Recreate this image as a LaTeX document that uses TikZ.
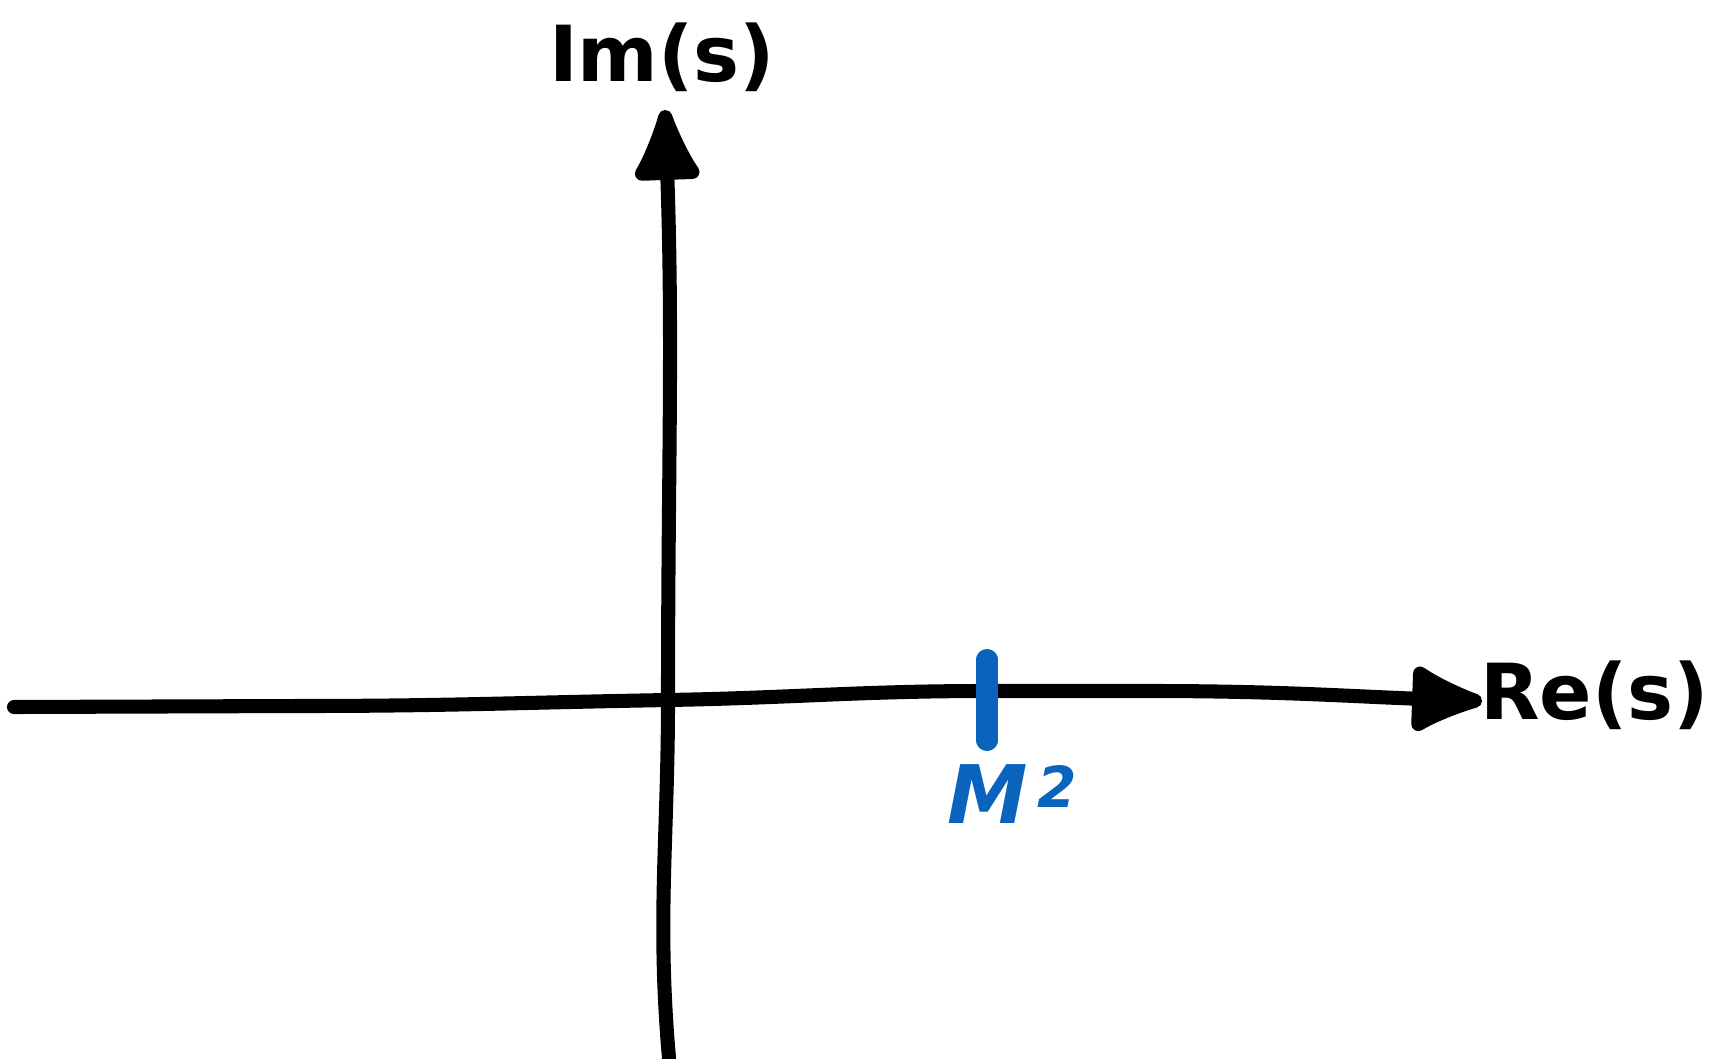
\documentclass[tikz,border=0pt]{standalone}
\usepackage{fontspec}
\setmainfont{DejaVu Sans}
\usetikzlibrary{arrows.meta}
\definecolor{poleblue}{RGB}{10,100,190}
\begin{document}
\begin{tikzpicture}[x=0.02cm, y=-0.02cm,
  axisline/.style={line width=8pt, line cap=round, -{Latex[round, length=50pt, width=44pt]}},
  lbl/.style={font=\fontsize{44}{48}\selectfont\bfseries},
  pole/.style={draw=poleblue, line width=12pt, line cap=round}]
  \useasboundingbox (0,0) rectangle (1717,1058);
  \coordinate (xl) at (14,707);
  \coordinate (xr) at (1482,701);
  \coordinate (yb) at (669,1058);
  \coordinate (yt) at (665,110);
  \coordinate (O) at (668,700);
  \draw[axisline] (xl) -- (300,706) to[out=0, in=181] (O) to[out=1, in=180] (986,691) -- (1150,691) to[out=0, in=178] (xr);
  \draw[axisline] (yb) to[out=95, in=-90] (O) to[out=90, in=-88] (yt);
  \node[lbl] (im) at (662,57) {Im(s)};
  \node[lbl, anchor=east] (re) at (1715,695) {Re(s)};
  \coordinate (pt) at (987,660);
  \coordinate (pb) at (987,740);
  \draw[pole] (pt) -- (pb);
  \fill[poleblue] (pt) circle (11) (pb) circle (11);
  \node[lbl, text=poleblue, font=\fontsize{46}{50}\selectfont\bfseries\itshape] (msq) at (1013,794) {M\textsuperscript{\,2}};
\end{tikzpicture}
\end{document}
